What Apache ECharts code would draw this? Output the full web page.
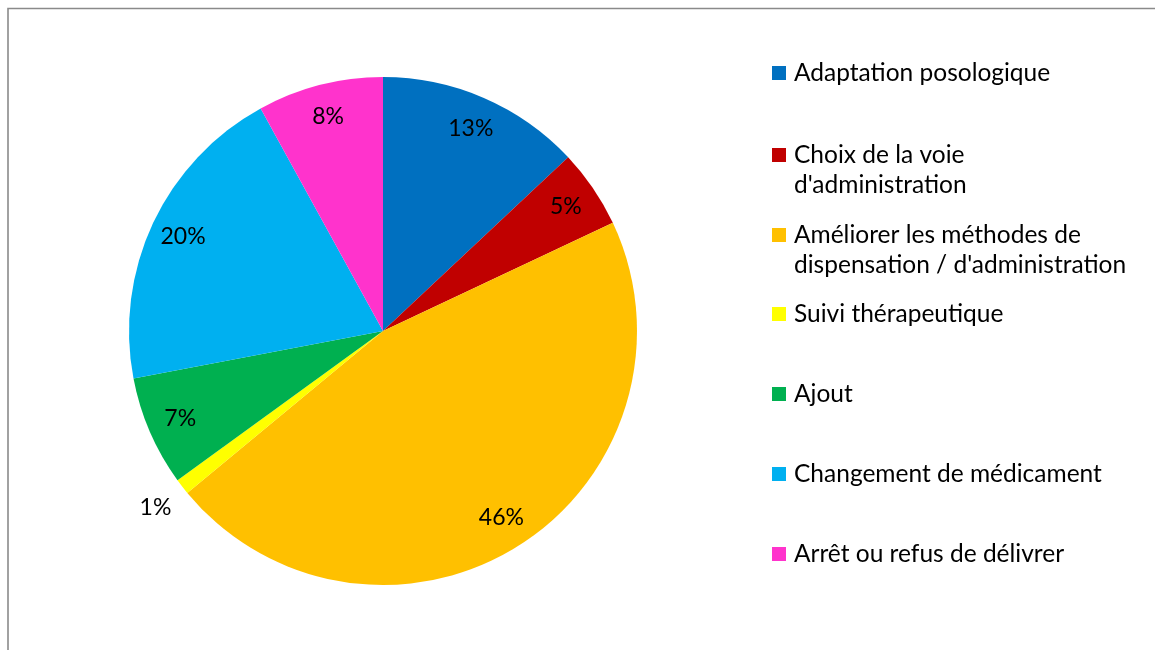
<!DOCTYPE html>
<html>
<head>
<meta charset="utf-8">
<script src="https://cdn.jsdelivr.net/npm/echarts@6/dist/echarts.min.js"></script>
<style>
html,body{margin:0;padding:0;background:#fff;}
#chart{width:1155px;height:650px;}
</style>
</head>
<body>
<div id="chart"></div>
<script>
const categories = [
  "Adaptation posologique",
  "Choix de la voie d'administration",
  "Améliorer les méthodes de dispensation / d'administration",
  "Suivi thérapeutique",
  "Ajout",
  "Changement de médicament",
  "Arrêt ou refus de délivrer"
];
const legendLabels = [
  "Adaptation posologique",
  "Choix de la voie\nd'administration",
  "Améliorer les méthodes de\ndispensation / d'administration",
  "Suivi thérapeutique",
  "Ajout",
  "Changement de médicament",
  "Arrêt ou refus de délivrer"
];
const values = [13, 5, 46, 1, 7, 20, 8];
const colors = ["#0070C0", "#C00000", "#FFC000", "#FFFF00", "#00B050", "#00B0F0", "#FF33CC"];

const FONT = "Lato";
const chart = echarts.init(document.getElementById('chart'));

const cx = 383, cy = 331, R = 254;
const legendFirstLine = [73, 155, 235, 314, 394, 474, 554];
const LH = 30;

const legends = categories.map((name, i) => {
  const lines = legendLabels[i].split('\n');
  // pad with blank lines above so the first line sits on the marker's centre
  const padded = new Array(lines.length - 1).fill('').concat(lines);
  const text = padded.join('\n');
  const boxTop = 7 - (padded.length * LH) / 2;
  const markerTop = legendFirstLine[i] - 7;
  return {
    show: true,
    orient: 'vertical',
    left: 772,
    top: markerTop + boxTop,
    padding: 0,
    itemWidth: 14,
    itemHeight: 14,
    itemGap: 0,
    icon: 'rect',
    selectedMode: false,
    data: [name],
    formatter: () => text,
    textStyle: {
      fontFamily: FONT,
      fontSize: 24.5,
      color: '#000',
      lineHeight: LH,
      padding: [0, 0, 0, 3]
    }
  };
});

const pieData = categories.map((name, i) => ({
  name: name,
  value: values[i],
  itemStyle: { color: colors[i] }
}));

const labelStyle = {
  show: true,
  position: 'inside',
  formatter: p => p.value + '%',
  fontFamily: FONT,
  fontSize: 23,
  color: '#000'
};

chart.setOption({
  animation: false,
  backgroundColor: '#fff',
  color: colors,
  legend: legends,
  graphic: [{
    type: 'rect',
    shape: { x: 8, y: 8.5, width: 1200, height: 700 },
    style: { fill: 'none', stroke: '#8a8a8a', lineWidth: 1.6 },
    silent: true
  }],
  series: [
    {
      type: 'pie',
      center: [cx, cy],
      radius: [0, R],
      startAngle: 90,
      clockwise: true,
      avoidLabelOverlap: false,
      label: { show: false },
      labelLine: { show: false },
      emphasis: { disabled: true },
      itemStyle: { borderWidth: 0 },
      data: pieData
    },
    {
      type: 'pie',
      center: [cx, cy],
      radius: [182, R],
      startAngle: 90,
      clockwise: true,
      silent: true,
      avoidLabelOverlap: false,
      legendHoverLink: false,
      emphasis: { disabled: true },
      itemStyle: { color: 'rgba(0,0,0,0)', borderWidth: 0 },
      labelLine: { show: false },
      data: categories.map((name, i) => ({
        name: name,
        value: values[i],
        label: { show: values[i] >= 2 }
      })),
      label: labelStyle
    },
    {
      type: 'pie',
      center: [cx, cy],
      radius: [R, 316],
      startAngle: 90,
      clockwise: true,
      silent: true,
      avoidLabelOverlap: false,
      legendHoverLink: false,
      emphasis: { disabled: true },
      itemStyle: { color: 'rgba(0,0,0,0)', borderWidth: 0 },
      labelLine: { show: false },
      data: categories.map((name, i) => ({
        name: name,
        value: values[i],
        label: { show: values[i] < 2 }
      })),
      label: labelStyle
    }
  ]
});
</script>
</body>
</html>
